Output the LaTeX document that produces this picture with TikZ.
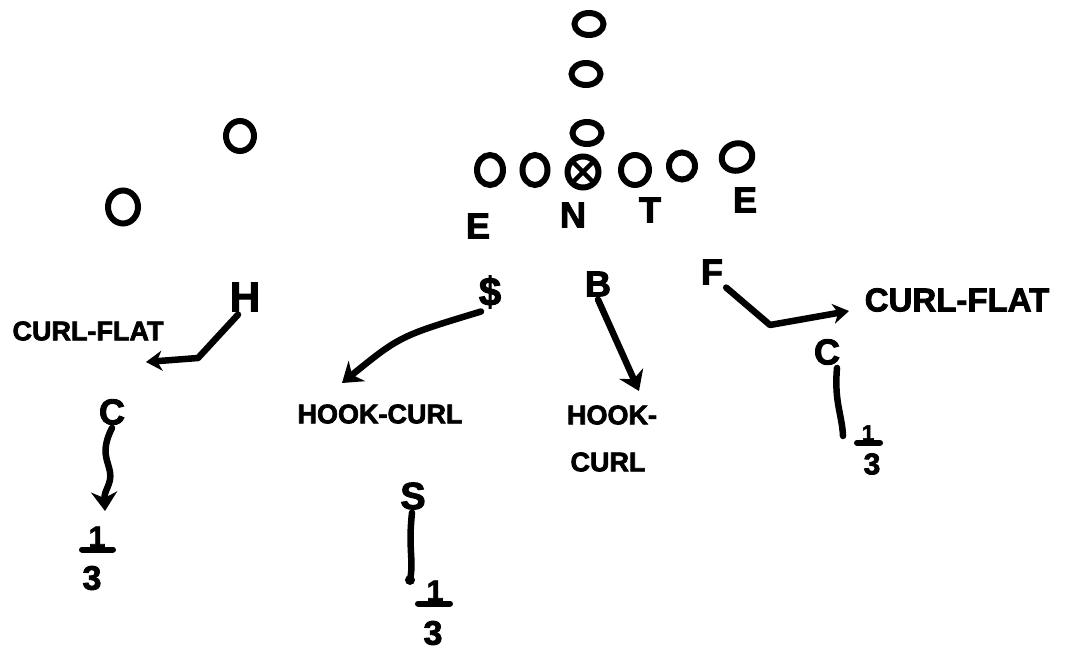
\documentclass[tikz,border=0pt]{standalone}
\usepackage{fontspec}
\setmainfont{Liberation Sans}[BoldFeatures={FakeBold=2.5}]
\usetikzlibrary{shapes.geometric,arrows.meta}
\begin{document}
\begin{tikzpicture}[x=1pt,y=-1pt,
  pen/.style={line width=6.5pt,line cap=round,line join=round},
  arr/.style={pen,-{Stealth[length=19pt,width=26pt,inset=6pt]}},
  sarr/.style={pen,-{Stealth[length=16pt,width=20pt,inset=5pt]}},
  plr/.style={draw,ellipse,line width=6pt,inner sep=0pt,minimum width=28pt,minimum height=24pt},
  letter/.style={font=\bfseries\fontsize{36}{40}\selectfont,inner sep=3pt},
  lab/.style={font=\bfseries\fontsize{27}{30}\selectfont,inner sep=2pt},
  num/.style={font=\bfseries\fontsize{30}{32}\selectfont,inner sep=0pt},
  bar/.style={line width=6pt,line cap=round}
]
\useasboundingbox[fill=white] (0,0) rectangle (1075,650);

% offense backfield (top)
\node[plr,minimum width=29pt,minimum height=22pt] (o1) at (589,24) {};
\node[plr,minimum width=29pt,minimum height=22pt] (o2) at (586,74) {};
\node[plr,minimum width=29pt,minimum height=22pt] (o3) at (587,133) {};
% line
\node[plr,minimum width=26pt,minimum height=30pt] (l1) at (490,170) {};
\node[plr,minimum width=25pt,minimum height=30pt] (l2) at (535,170) {};
\node[plr,minimum width=31pt,minimum height=31pt] (cx) at (583,172) {};
\draw[line width=4.5pt,shorten >=3pt,shorten <=3pt] (cx.north west) -- (cx.south east);
\draw[line width=4.5pt,shorten >=3pt,shorten <=3pt] (cx.north east) -- (cx.south west);
\node[plr,minimum width=28pt,minimum height=30pt] (l4) at (635,170) {};
\node[plr,minimum width=26pt,minimum height=27pt] (l5) at (682,166) {};
\node[plr,minimum width=31pt,minimum height=27pt,rotate=20] (l6) at (737,157) {};
% wide receivers
\node[plr,minimum width=28pt,minimum height=30pt] (w1) at (240,136) {};
\node[plr,minimum width=30pt,minimum height=33pt] (w2) at (123,207) {};

% defensive line letters
\node[letter] (e1) at (478,226) {E};
\node[letter] (n) at (573,215) {N};
\node[letter] (t) at (650,210) {T};
\node[letter] (e2) at (745,200) {E};

% linebackers
\node[letter,font=\bfseries\fontsize{42}{46}\selectfont] (h) at (245,297) {H};
\node[letter,font=\bfseries\fontsize{40}{44}\selectfont] (ss) at (490,292) {\$};
\node[letter] (b) at (598,284) {B};
\node[letter] (f) at (712,272) {F};

% labels
\node[lab] (cf1) at (88,331) {CURL-FLAT};
\node[lab,font=\bfseries\fontsize{33}{36}\selectfont] (cf2) at (957,300) {CURL-FLAT};
\node[lab] (hc1) at (380,414) {HOOK-CURL};
\node[lab] (hk) at (612,415) {HOOK-};
\node[lab] (cu) at (608,462) {CURL};

% H route
\coordinate (hb) at (198,358);
\coordinate (ha) at (146,362);
\draw[sarr] ([xshift=-7pt]h.south) -- (hb) -- (ha);

% $ route
\coordinate (sa) at (342,383);
\draw[arr] ([xshift=-9pt]ss.south) .. controls (400,336) .. (sa);

% B route
\coordinate (ba) at (639,391);
\draw[arr] (b.south) -- (ba);

% F route
\coordinate (fb) at (770,325);
\coordinate (fa) at (849,311);
\draw[sarr] (f.south east) -- (fb) -- (fa);

% corners and safety
\node[letter] (c1) at (112,412) {C};
\node[letter] (c2) at (827,352) {C};
\node[letter,font=\bfseries\fontsize{38}{42}\selectfont] (s) at (413,496) {S};

% left corner deep route
\coordinate (c1a) at (105,511);
\draw[arr] (c1.south) .. controls (100,452) and (108,460) .. (110,472)
  .. controls (112,484) and (104,490) .. (c1a);
\node[num] (one1) at (97,537) {1};
\draw[bar] ([xshift=-15pt,yshift=-2pt]one1.south) -- ([xshift=16pt,yshift=-2pt]one1.south);
\node[num,font=\bfseries\fontsize{34}{36}\selectfont] (three1) at (92,578) {3};

% safety
\coordinate (sd) at (410,580);
\draw[pen] ([xshift=-1pt]s.south) .. controls (408,550) and (414,560) .. (sd);
\fill (sd) circle (5pt);
\node[num] (one2) at (435,591) {1};
\draw[bar] ([xshift=-17pt,yshift=-2pt]one2.south) -- ([xshift=15pt,yshift=-2pt]one2.south);
\node[num,font=\bfseries\fontsize{34}{36}\selectfont] (three2) at (433,633) {3};

% right corner
\coordinate (c2a) at (843,436);
\draw[pen] ([xshift=10pt]c2.south) .. controls (834,402) and (842,414) .. (c2a);
\node[num,font=\bfseries\fontsize{22}{24}\selectfont] (one3) at (868,433) {1};
\draw[bar] ([xshift=-11pt,yshift=-2pt]one3.south) -- ([xshift=12pt,yshift=-2pt]one3.south);
\node[num,font=\bfseries\fontsize{30}{32}\selectfont] (three3) at (872,464) {3};
\end{tikzpicture}
\end{document}
